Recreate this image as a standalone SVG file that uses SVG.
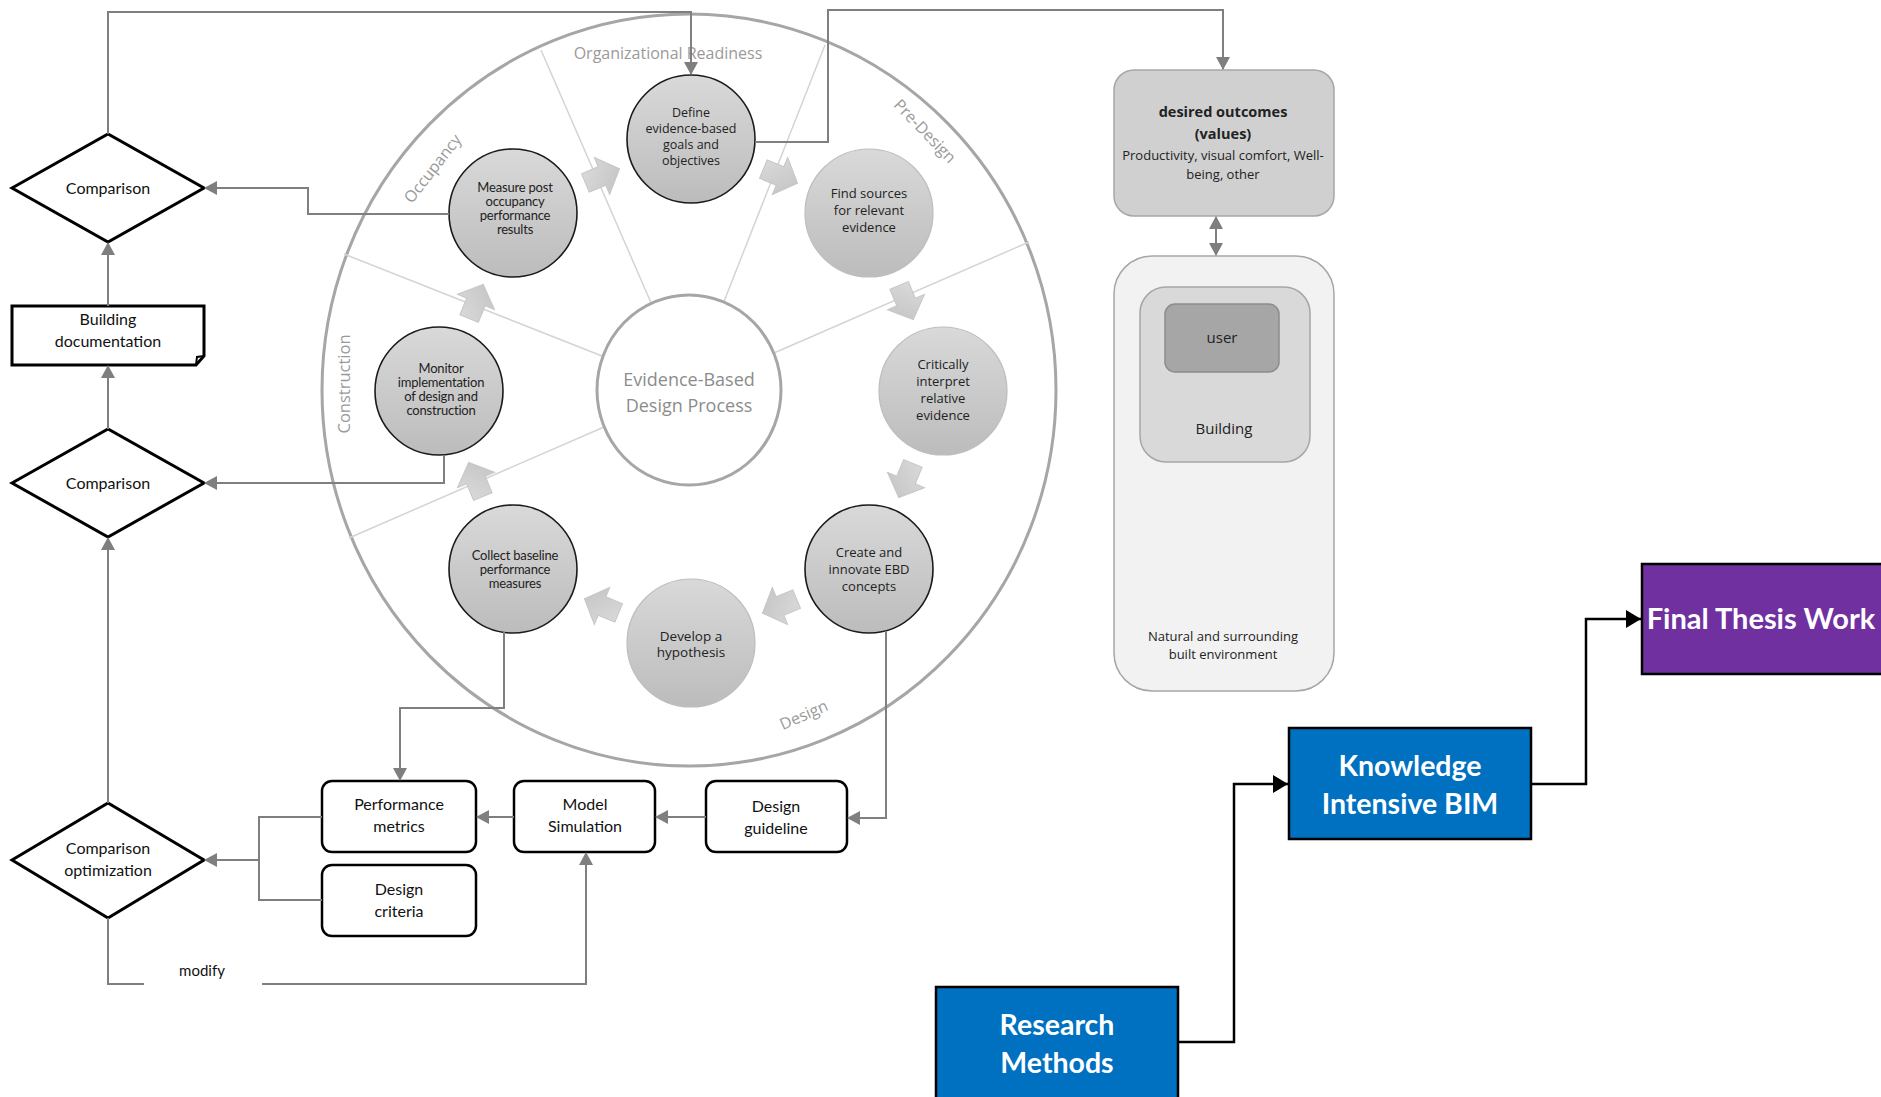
<svg xmlns="http://www.w3.org/2000/svg" width="1881" height="1097" viewBox="0 0 1881 1097">
<style>
.conn{fill:none;stroke:#7f7f7f;stroke-width:2}
.conn-b{fill:none;stroke:#000;stroke-width:2.5}
.spoke{stroke:#d4d4d4;stroke-width:1.5}
.dia{fill:#fff;stroke:#000;stroke-width:3}
.box{fill:#fff;stroke:#000;stroke-width:2.5}
.t{font-family:Lato,"Liberation Sans",sans-serif;font-size:16px;fill:#111;text-anchor:middle}
.ct{font-family:"Open Sans","Liberation Sans",sans-serif;font-size:12.5px;fill:#222;text-anchor:middle}
.cn{font-family:Lato,"Liberation Sans",sans-serif;font-size:13px;fill:#222;text-anchor:middle;letter-spacing:-0.2px}
.ring{font-family:"Open Sans","Liberation Sans",sans-serif;font-size:16px;fill:#9a9a9a;text-anchor:middle}
.rt{font-family:"Open Sans","Liberation Sans",sans-serif;fill:#222;text-anchor:middle}
.big{font-family:Lato,"Liberation Sans",sans-serif;font-weight:bold;font-size:28.5px;fill:#fff;text-anchor:middle}
.cdark{fill:url(#cg);stroke:#1a1a1a;stroke-width:1.6}
.clight{fill:url(#cg);stroke:#bdbdbd;stroke-width:1.2}
</style>
<defs>
<linearGradient id="cg" x1="0" y1="0" x2="0" y2="1">
<stop offset="0" stop-color="#d9d9d9"/>
<stop offset="1" stop-color="#bcbcbc"/>
</linearGradient>
<linearGradient id="ag" x1="0" y1="0" x2="1" y2="1">
<stop offset="0" stop-color="#dcdcdc"/>
<stop offset="1" stop-color="#c2c2c2"/>
</linearGradient>
<path id="barrow" d="M-18,-10 L0,-10 L0,-20 L19,0 L0,20 L0,10 L-18,10 Z" fill="url(#ag)" stroke="#c6c6c6" stroke-width="1"/>
<marker id="ag1" markerUnits="userSpaceOnUse" markerWidth="14" markerHeight="14" refX="12" refY="7" orient="auto">
<path d="M0,0 L13,7 L0,14 Z" fill="#7f7f7f"/>
</marker>
<marker id="ab1" markerUnits="userSpaceOnUse" markerWidth="16" markerHeight="18" refX="15" refY="9" orient="auto">
<path d="M0,0 L15,9 L0,18 Z" fill="#000"/>
</marker>
<marker id="ag0" markerUnits="userSpaceOnUse" markerWidth="14" markerHeight="14" refX="1" refY="7" orient="auto">
<path d="M13,0 L0,7 L13,14 Z" fill="#7f7f7f"/>
</marker>
</defs>

<!-- EBD wheel background -->
<g id="wheel">
<ellipse cx="689" cy="390" rx="367" ry="376" fill="#fff" stroke="#a6a6a6" stroke-width="3"/>
<line class="spoke" x1="774" y1="353" x2="1029" y2="242"/>
<line class="spoke" x1="723" y1="304" x2="825" y2="45"/>
<line class="spoke" x1="652" y1="305" x2="541" y2="50"/>
<line class="spoke" x1="604" y1="427" x2="349" y2="538"/>
<line class="spoke" x1="602" y1="356" x2="344" y2="254"/>
<text class="ring" x="668" y="59">Organizational Readiness</text>
<text class="ring" transform="translate(921,135) rotate(46)">Pre-Design</text>
<text class="ring" transform="translate(806,720) rotate(-24)">Design</text>
<text class="ring" transform="translate(350,384) rotate(-90)" style="font-size:16.5px">Construction</text>
<text class="ring" transform="translate(437,172) rotate(-52)">Occupancy</text>
</g>

<g id="center">
<ellipse cx="689" cy="390" rx="92" ry="95" fill="#fff" stroke="#a6a6a6" stroke-width="3"/>
<text class="ring" style="font-size:18px;fill:#8c8c8c" x="689" y="386">Evidence-Based</text>
<text class="ring" style="font-size:18px;fill:#8c8c8c" x="689" y="412">Design Process</text>
</g>

<g id="block-arrows">
<use href="#barrow" transform="translate(602,176) rotate(-22.5)"/>
<use href="#barrow" transform="translate(780,176) rotate(22.5)"/>
<use href="#barrow" transform="translate(906,302) rotate(67.5)"/>
<use href="#barrow" transform="translate(906,480) rotate(112.5)"/>
<use href="#barrow" transform="translate(780,606) rotate(157.5)"/>
<use href="#barrow" transform="translate(602,606) rotate(202.5)"/>
<use href="#barrow" transform="translate(476,480) rotate(247.5)"/>
<use href="#barrow" transform="translate(476,302) rotate(292.5)"/>
</g>

<g id="define">
<circle class="cdark" cx="691" cy="139" r="64"/>
<text class="ct" x="691" y="117">Define</text>
<text class="ct" x="691" y="133">evidence-based</text>
<text class="ct" x="691" y="149">goals and</text>
<text class="ct" x="691" y="165">objectives</text>
</g>
<g id="find">
<circle class="clight" cx="869" cy="213" r="64"/>
<text class="ct" style="font-size:13px" x="869" y="198">Find sources</text>
<text class="ct" style="font-size:13px" x="869" y="215">for relevant</text>
<text class="ct" style="font-size:13px" x="869" y="232">evidence</text>
</g>
<g id="critically">
<circle class="clight" cx="943" cy="391" r="64"/>
<text class="ct" style="font-size:13px" x="943" y="369">Critically</text>
<text class="ct" style="font-size:13px" x="943" y="386">interpret</text>
<text class="ct" style="font-size:13px" x="943" y="403">relative</text>
<text class="ct" style="font-size:13px" x="943" y="420">evidence</text>
</g>
<g id="create">
<circle class="cdark" cx="869" cy="569" r="64"/>
<text class="ct" style="font-size:13px" x="869" y="557">Create and</text>
<text class="ct" style="font-size:13px" x="869" y="574">innovate EBD</text>
<text class="ct" style="font-size:13px" x="869" y="591">concepts</text>
</g>
<g id="develop">
<circle class="clight" cx="691" cy="643" r="64"/>
<text class="ct" style="font-size:13.5px" x="691" y="641">Develop a</text>
<text class="ct" style="font-size:13.5px" x="691" y="657">hypothesis</text>
</g>
<g id="collect">
<circle class="cdark" cx="513" cy="569" r="64"/>
<text class="cn" x="515" y="560">Collect baseline</text>
<text class="cn" x="515" y="574">performance</text>
<text class="cn" x="515" y="588">measures</text>
</g>
<g id="monitor">
<circle class="cdark" cx="439" cy="391" r="64"/>
<text class="cn" x="441" y="373">Monitor</text>
<text class="cn" x="441" y="387">implementation</text>
<text class="cn" x="441" y="401">of design and</text>
<text class="cn" x="441" y="415">construction</text>
</g>
<g id="measure">
<circle class="cdark" cx="513" cy="213" r="64"/>
<text class="cn" x="515" y="192">Measure post</text>
<text class="cn" x="515" y="206">occupancy</text>
<text class="cn" x="515" y="220">performance</text>
<text class="cn" x="515" y="234">results</text>
</g>

<g id="comparison1">
<polygon class="dia" points="12,188 108,134 204,188 108,242"/>
<text class="t" x="108" y="194">Comparison</text>
</g>
<g id="building-doc">
<path d="M12,306 L204,306 L204,356 L196,365 L12,365 Z" fill="#fff" stroke="#000" stroke-width="3"/>
<path d="M196,365 L197,357 L204,356" fill="none" stroke="#000" stroke-width="2"/>
<text class="t" x="108" y="325">Building</text>
<text class="t" x="108" y="347">documentation</text>
</g>
<g id="comparison2">
<polygon class="dia" points="12,483 108,429 204,483 108,537"/>
<text class="t" x="108" y="489">Comparison</text>
</g>
<g id="comparison3">
<polygon class="dia" points="12,860 108,803 204,860 108,918"/>
<text class="t" x="108" y="854">Comparison</text>
<text class="t" x="108" y="876">optimization</text>
</g>

<g id="performance-metrics">
<rect class="box" x="322" y="781" width="154" height="71" rx="10"/>
<text class="t" x="399" y="810">Performance</text>
<text class="t" x="399" y="832">metrics</text>
</g>
<g id="model-simulation">
<rect class="box" x="514" y="781" width="141" height="71" rx="10"/>
<text class="t" x="585" y="810">Model</text>
<text class="t" x="585" y="832">Simulation</text>
</g>
<g id="design-guideline">
<rect class="box" x="706" y="781" width="141" height="71" rx="10"/>
<text class="t" x="776" y="812">Design</text>
<text class="t" x="776" y="834">guideline</text>
</g>
<g id="design-criteria">
<rect class="box" x="322" y="865" width="154" height="71" rx="10"/>
<text class="t" x="399" y="895">Design</text>
<text class="t" x="399" y="917">criteria</text>
</g>
<text class="t" x="202" y="976" style="font-size:15px">modify</text>

<g id="desired-outcomes">
<rect x="1114" y="70" width="220" height="146" rx="20" fill="#d0d0d0" stroke="#a6a6a6" stroke-width="1.5"/>
<text class="rt" style="font-size:14.5px;font-weight:bold" x="1223" y="117">desired outcomes</text>
<text class="rt" style="font-size:14.5px;font-weight:bold" x="1223" y="139">(values)</text>
<text class="rt" style="font-size:13px" x="1223" y="160">Productivity, visual comfort, Well-</text>
<text class="rt" style="font-size:13px" x="1223" y="179">being, other</text>
</g>
<g id="environment">
<rect x="1114" y="256" width="220" height="435" rx="38" fill="#f2f2f2" stroke="#a6a6a6" stroke-width="1.5"/>
<text class="rt" style="font-size:13px" x="1223" y="641">Natural and surrounding</text>
<text class="rt" style="font-size:13px" x="1223" y="659">built environment</text>
</g>
<g id="building">
<rect x="1140" y="287" width="170" height="175" rx="26" fill="#d9d9d9" stroke="#a6a6a6" stroke-width="1.5"/>
<text class="rt" style="font-size:15px" x="1224" y="434">Building</text>
</g>
<g id="user">
<rect x="1165" y="304" width="114" height="68" rx="10" fill="#a6a6a6" stroke="#8c8c8c" stroke-width="1.5"/>
<text class="rt" style="font-size:15px" x="1222" y="343">user</text>
</g>

<g id="research-methods">
<rect x="936" y="987" width="242" height="114" fill="#0070c0" stroke="#000" stroke-width="2.5"/>
<text class="big" x="1057" y="1035">Research</text>
<text class="big" x="1057" y="1073">Methods</text>
</g>
<g id="knowledge-bim">
<rect x="1289" y="728" width="242" height="111" fill="#0070c0" stroke="#000" stroke-width="2.5"/>
<text class="big" x="1410" y="776">Knowledge</text>
<text class="big" x="1410" y="814">Intensive BIM</text>
</g>
<g id="final-thesis">
<rect x="1642" y="564" width="245" height="110" fill="#7030a0" stroke="#000" stroke-width="2.5"/>
<text class="big" style="font-size:29px" x="1761" y="629">Final Thesis Work</text>
</g>

<g id="connectors">
<polyline class="conn" points="108,134 108,12 691,12 691,74" marker-end="url(#ag1)"/>
<polyline class="conn" points="755,142 828,142 828,10 1223,10 1223,69" marker-end="url(#ag1)"/>
<polyline class="conn" points="449,214 308,214 308,188 205,188" marker-end="url(#ag1)"/>
<polyline class="conn" points="444,455 444,483 205,483" marker-end="url(#ag1)"/>
<line class="conn" x1="108" y1="306" x2="108" y2="243" marker-end="url(#ag1)"/>
<line class="conn" x1="108" y1="429" x2="108" y2="366" marker-end="url(#ag1)"/>
<line class="conn" x1="108" y1="803" x2="108" y2="538" marker-end="url(#ag1)"/>
<polyline class="conn" points="504,632 504,708 400,708 400,780" marker-end="url(#ag1)"/>
<polyline class="conn" points="886,631 886,818 848,818" marker-end="url(#ag1)"/>
<line class="conn" x1="706" y1="817" x2="656" y2="817" marker-end="url(#ag1)"/>
<line class="conn" x1="514" y1="817" x2="477" y2="817" marker-end="url(#ag1)"/>
<polyline class="conn" points="322,817 259,817 259,900 322,900"/>
<line class="conn" x1="259" y1="860" x2="205" y2="860" marker-end="url(#ag1)"/>
<polyline class="conn" points="108,918 108,984 144,984"/>
<polyline class="conn" points="262,984 586,984 586,853" marker-end="url(#ag1)"/>
<line class="conn" x1="1216" y1="217" x2="1216" y2="255" marker-start="url(#ag0)" marker-end="url(#ag1)"/>
<polyline class="conn-b" points="1178,1042 1234,1042 1234,784 1288,784" marker-end="url(#ab1)"/>
<polyline class="conn-b" points="1531,784 1586,784 1586,619 1641,619" marker-end="url(#ab1)"/>
</g>
</svg>
